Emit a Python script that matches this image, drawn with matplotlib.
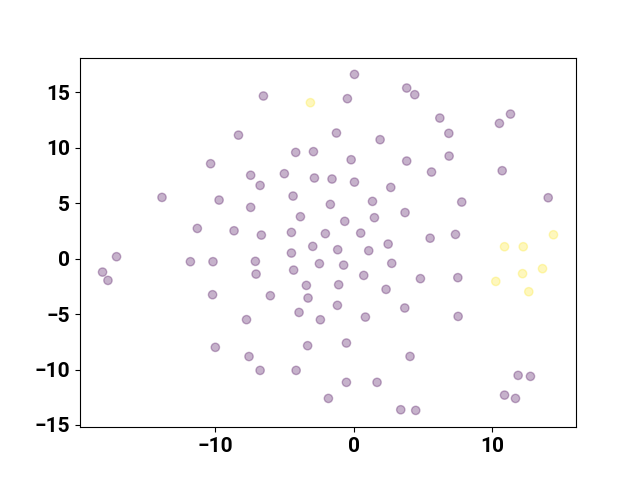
import matplotlib
matplotlib.use('Agg')
import matplotlib.pyplot as plt
import numpy as np

# cluster 0 (purple)
x0 = [-8.33, -10.34, -7.45, -13.85, -9.73, -7.45, -11.3, -8.65, 0.04, -6.53,
      -0.47, 3.81, -1.26, 1.89, -4.2, -2.92, -0.2, 3.81, -6.77, -5.02,
      -2.85, -1.58, 0.04, 2.66, -4.39, -1.7, 1.34, -3.86, -0.66, 1.48,
      3.69, -6.68, -4.51, -2.06, 0.49, 4.39, 6.2, 6.85, 11.3, 10.5,
      6.87, 5.6, 10.7, 14.02, 7.78, 5.5, 7.33, -17.13, -18.14, -17.75,
      -11.8, -10.17, -10.2, -7.75, -10.0, -7.57, -2.97, -4.51, -1.17, 1.07,
      2.47, -7.11, -7.06, -4.35, -2.49, -0.74, 2.73, 0.71, -3.43, -1.1,
      2.32, -6.03, -3.31, -1.19, -3.96, -2.42, 0.83, 3.67, -3.34, -0.54,
      4.05, -6.77, -4.17, -0.54, 1.67, -1.84, 3.38, 4.8, 7.5, 7.52,
      11.85, 12.74, 10.87, 11.66, 4.46]
y0 = [11.15, 8.57, 7.53, 5.53, 5.29, 4.63, 2.73, 2.52, 16.63, 14.68,
      14.44, 15.4, 11.34, 10.74, 9.59, 9.66, 8.93, 8.81, 6.61, 7.67,
      7.28, 7.19, 6.91, 6.43, 5.65, 4.9, 5.17, 3.79, 3.37, 3.7,
      4.16, 2.13, 2.37, 2.26, 2.31, 14.8, 12.69, 11.31, 13.05, 12.21,
      9.26, 7.82, 7.94, 5.5, 5.11, 1.85, 2.19, 0.18, -1.21, -1.96,
      -0.27, -0.27, -3.25, -5.5, -8.0, -8.83, 1.11, 0.51, 0.81, 0.72,
      1.32, -0.24, -1.39, -1.03, -0.45, -0.58, -0.42, -1.51, -2.41, -2.35,
      -2.77, -3.34, -3.55, -4.21, -4.85, -5.51, -5.27, -4.45, -7.85, -7.61,
      -8.82, -10.08, -10.08, -11.16, -11.16, -12.61, -13.63, -1.8, -1.71, -5.21,
      -10.53, -10.62, -12.31, -12.61, -13.69]

# cluster 1 (yellow)
x1 = [-3.14, 14.4, 10.87, 12.22, 12.17, 13.61, 10.24, 12.62]
y1 = [14.08, 2.16, 1.08, 1.08, -1.35, -0.9, -2.05, -2.98]

x = np.array(x0 + x1)
y = np.array(y0 + y1)
labels = np.array([0] * len(x0) + [1] * len(x1))

plt.rcParams['font.family'] = ['Roboto', 'DejaVu Sans']
plt.rcParams['font.weight'] = 'bold'
plt.rcParams['font.size'] = 15

fig, ax = plt.subplots(figsize=(6.4, 4.8), dpi=100)
ax.scatter(x, y, c=labels, cmap='viridis', alpha=0.3)

plt.savefig('out.png')
